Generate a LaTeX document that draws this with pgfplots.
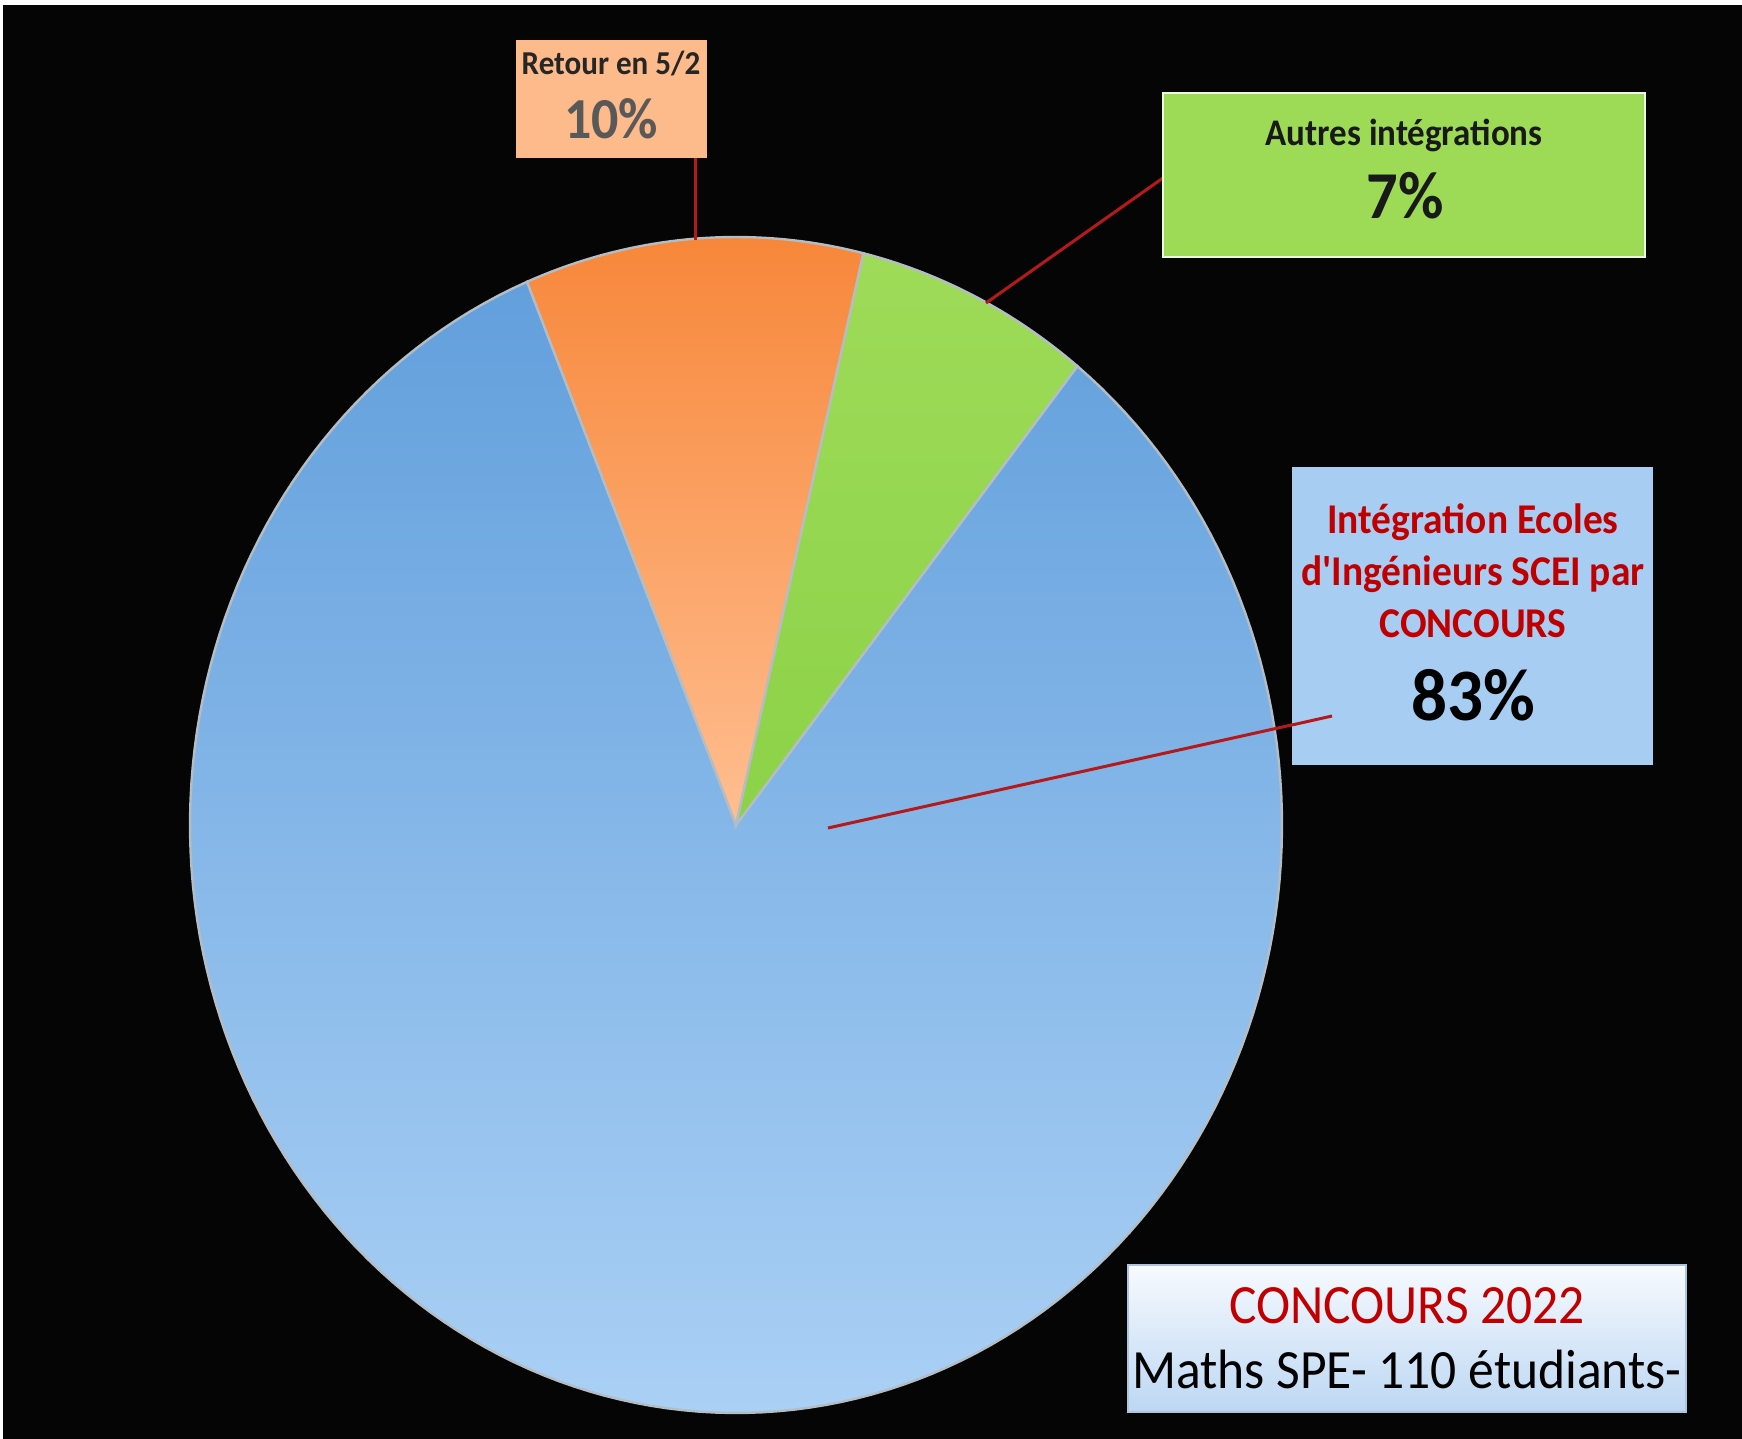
\documentclass[border=0pt]{standalone}
\usepackage{pgfplots}
\usepackage{pgfplotstable}
\pgfplotsset{compat=1.18}
\usepackage{fontspec}
\setmainfont{Carlito}[Ligatures=TeXOff]
\definecolor{bgblack}{HTML}{050505}
\definecolor{blueT}{HTML}{629FDC}
\definecolor{blueB}{HTML}{AAD0F5}
\definecolor{orangeT}{HTML}{F7873A}
\definecolor{orangeB}{HTML}{FFBE90}
\definecolor{greenT}{HTML}{9EDB58}
\definecolor{greenB}{HTML}{8CD248}
\definecolor{pieedge}{HTML}{B4BCC4}
\definecolor{orangebox}{HTML}{FDBA8A}
\definecolor{greenbox}{HTML}{9DDB57}
\definecolor{bluebox}{HTML}{A8CDF2}
\definecolor{darkred}{HTML}{C00000}
\definecolor{leader}{HTML}{B51A1A}
\definecolor{txtdark}{HTML}{262626}
\definecolor{txtgray}{HTML}{595959}
\definecolor{boxT}{HTML}{F7FAFE}
\definecolor{boxB}{HTML}{BCD7F3}
\pgfplotstableread{
cat value
Retour 10
Autres 7
Integration 83
}\piedata
\begin{document}
\begin{tikzpicture}
\pgfplotstablegetelem{0}{value}\of\piedata\let\vA\pgfplotsretval
\pgfplotstablegetelem{1}{value}\of\piedata\let\vB\pgfplotsretval
\pgfplotstablegetelem{2}{value}\of\piedata\let\vC\pgfplotsretval
\pgfmathsetmacro\aS{112.5}
\pgfmathsetmacro\aA{\aS-3.6*\vA}
\pgfmathsetmacro\aB{\aA-3.6*\vB}
\pgfmathsetmacro\aC{\aB-3.6*\vC}
\def\cx{736}\def\cy{825}\def\rx{546}\def\ry{588}
\begin{axis}[
  width=871pt, height=719.5pt, scale only axis,
  xmin=0, xmax=1742, ymin=0, ymax=1439, y dir=reverse,
  hide axis, clip=false,
]
\fill[white] (axis cs:0,0) rectangle (axis cs:1742,1439);
\fill[bgblack] (axis cs:3,5) rectangle (axis cs:1742,1439);
% slices
\addplot[mark=none, draw=pieedge, line width=1.2pt, top color=blueT, bottom color=blueB,
  domain=\aC:\aB, samples=180, variable=\t]
  ({\cx+\rx*cos(\t)},{\cy-\ry*sin(\t)}) -- (axis cs:\cx,\cy) -- cycle;
\addplot[mark=none, draw=pieedge, line width=1.2pt, top color=orangeT, bottom color=orangeB,
  domain=\aA:\aS, samples=40, variable=\t]
  ({\cx+\rx*cos(\t)},{\cy-\ry*sin(\t)}) -- (axis cs:\cx,\cy) -- cycle;
\addplot[mark=none, draw=pieedge, line width=1.2pt, top color=greenT, bottom color=greenB,
  domain=\aB:\aA, samples=40, variable=\t]
  ({\cx+\rx*cos(\t)},{\cy-\ry*sin(\t)}) -- (axis cs:\cx,\cy) -- cycle;
% leader lines
\draw[leader, line width=1.5pt] (axis cs:695,158) -- (axis cs:695,240);
\draw[leader, line width=1.5pt] (axis cs:986,303) -- (axis cs:1163,178);
\draw[leader, line width=1.5pt] (axis cs:828,828) -- (axis cs:1332,716);
% label boxes
\fill[orangebox] (axis cs:516,40) rectangle (axis cs:707,158);
\node[anchor=base, xscale=0.93, text=txtdark, font=\bfseries\fontsize{16.7}{18}\selectfont] at (axis cs:611,75) {Retour en 5/2};
\node[anchor=base, xscale=0.93, text=txtgray, font=\bfseries\fontsize{29}{32}\selectfont] at (axis cs:611,139) {10\%};
\filldraw[fill=greenbox, draw=white!80!greenbox, line width=1pt] (axis cs:1163,93) rectangle (axis cs:1645,257);
\node[anchor=base, xscale=0.93, text=black!90, font=\bfseries\fontsize{18.8}{20}\selectfont] at (axis cs:1404,146) {Autres intégrations};
\node[anchor=base, xscale=0.93, text=black!90, font=\bfseries\fontsize{33.5}{36}\selectfont] at (axis cs:1405,219) {7\%};
\fill[bluebox] (axis cs:1292,467) rectangle (axis cs:1653,765);
\draw[leader, line width=1.5pt] (axis cs:1292,725) -- (axis cs:1332,716);
\node[anchor=base, xscale=0.93, text=darkred, font=\bfseries\fontsize{21.2}{24}\selectfont] at (axis cs:1473,533) {Intégration Ecoles};
\node[anchor=base, xscale=0.93, text=darkred, font=\bfseries\fontsize{21.2}{24}\selectfont] at (axis cs:1473,585) {d'Ingénieurs SCEI par};
\node[anchor=base, xscale=0.93, text=darkred, font=\bfseries\fontsize{21.2}{24}\selectfont] at (axis cs:1473,637) {CONCOURS};
\node[anchor=base, xscale=0.96, text=black, font=\bfseries\fontsize{37}{40}\selectfont] at (axis cs:1473,720) {83\%};
% title box
\shade[top color=boxT, bottom color=boxB] (axis cs:1128,1265) rectangle (axis cs:1686,1412);
\draw[draw=boxB!80!gray, line width=0.8pt] (axis cs:1128,1265) rectangle (axis cs:1686,1412);
\node[anchor=base, xscale=0.93, text=darkred, font=\fontsize{27.7}{30}\selectfont] at (axis cs:1407,1323) {CONCOURS 2022};
\node[anchor=base, xscale=0.93, text=black, font=\fontsize{27.7}{30}\selectfont] at (axis cs:1407,1388) {Maths SPE- 110 étudiants-};
\end{axis}
\end{tikzpicture}
\end{document}
